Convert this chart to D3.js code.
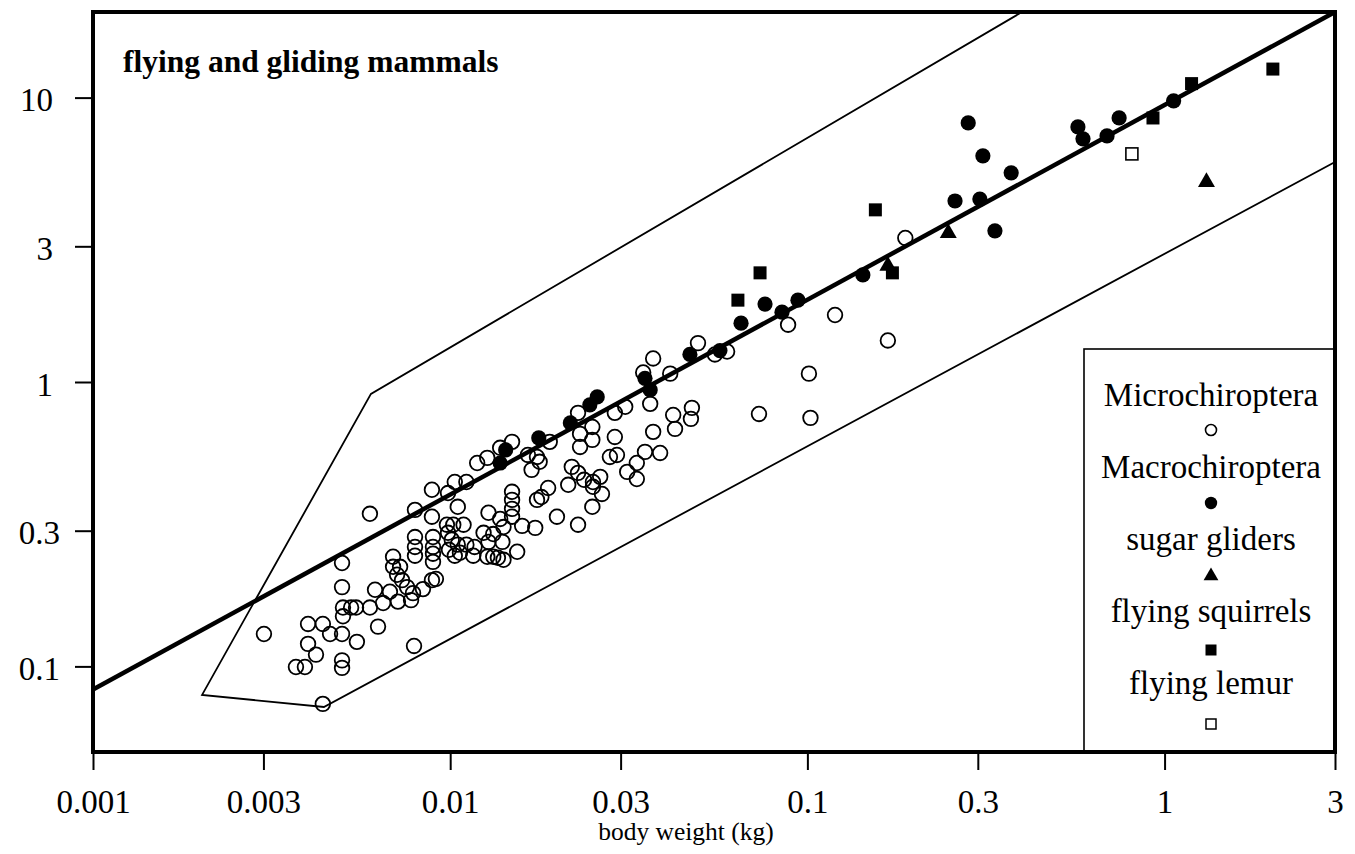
<!DOCTYPE html>
<html>
<head>
<meta charset="utf-8">
<script src="https://cdn.jsdelivr.net/npm/d3@7"></script>
<style>
body { margin: 0; background: #fff; }
text { font-family: "Liberation Serif", "Times New Roman", serif; fill: #000; }
</style>
</head>
<body>
<script>
// axis ticks
var xTicks = [0.001, 0.003, 0.01, 0.03, 0.1, 0.3, 1, 3];
var yTicks = [0.1, 0.3, 1, 3, 10];

// points as [body weight (kg), value]
var microchiroptera = [
  [0.00301, 0.130], [0.00370, 0.0995], [0.00392, 0.0995], [0.00400, 0.141], [0.00440, 0.141],
  [0.00461, 0.130], [0.00498, 0.130], [0.00400, 0.120], [0.00421, 0.110], [0.00498, 0.105],
  [0.00498, 0.0988], [0.00440, 0.0738], [0.00498, 0.231], [0.00498, 0.190], [0.00501, 0.161],
  [0.00501, 0.150], [0.00548, 0.122], [0.00596, 0.344], [0.00528, 0.161], [0.00545, 0.161],
  [0.00596, 0.161], [0.00616, 0.186], [0.00628, 0.138], [0.00649, 0.167], [0.00678, 0.183],
  [0.00692, 0.243], [0.00692, 0.224], [0.00724, 0.224], [0.00710, 0.210], [0.00733, 0.201],
  [0.00757, 0.190], [0.00714, 0.169], [0.00777, 0.171], [0.00787, 0.181], [0.00792, 0.118],
  [0.00797, 0.355], [0.00797, 0.285], [0.00797, 0.263], [0.00797, 0.245], [0.00839, 0.187],
  [0.00889, 0.418], [0.00889, 0.336], [0.00895, 0.285], [0.00895, 0.263], [0.00895, 0.249],
  [0.00895, 0.233], [0.00889, 0.201], [0.00912, 0.203], [0.00986, 0.407], [0.0103, 0.445],
  [0.0111, 0.445], [0.0105, 0.364], [0.00979, 0.315], [0.0102, 0.315], [0.0109, 0.315],
  [0.00986, 0.295], [0.0101, 0.279], [0.00992, 0.257], [0.0103, 0.245], [0.0105, 0.268],
  [0.01065, 0.251], [0.0111, 0.268], [0.0117, 0.263], [0.0116, 0.245], [0.0119, 0.519],
  [0.0127, 0.541], [0.0138, 0.587], [0.0149, 0.616], [0.0169, 0.491], [0.0128, 0.347],
  [0.0138, 0.330], [0.0141, 0.309], [0.0149, 0.411], [0.0149, 0.385], [0.0149, 0.358],
  [0.0149, 0.336], [0.0159, 0.312], [0.0173, 0.307], [0.0175, 0.385], [0.0124, 0.295],
  [0.0132, 0.292], [0.0140, 0.274], [0.0128, 0.274], [0.0127, 0.243], [0.0132, 0.243],
  [0.0136, 0.241], [0.0141, 0.237], [0.0154, 0.253], [0.0165, 0.554], [0.0175, 0.545],
  [0.0178, 0.524], [0.0190, 0.616], [0.0188, 0.424], [0.0214, 0.435], [0.0180, 0.394],
  [0.0199, 0.336], [0.0228, 0.315], [0.0219, 0.503], [0.0228, 0.479], [0.0237, 0.453],
  [0.0251, 0.445], [0.0263, 0.464], [0.0251, 0.428], [0.0266, 0.404], [0.0250, 0.364],
  [0.0228, 0.779], [0.0231, 0.657], [0.0231, 0.591], [0.0250, 0.695], [0.0250, 0.626],
  [0.0289, 0.779], [0.0309, 0.818], [0.0289, 0.641], [0.0280, 0.545], [0.0293, 0.554],
  [0.0313, 0.483], [0.0333, 0.519], [0.0333, 0.456], [0.0351, 0.568], [0.0387, 0.563],
  [0.0363, 0.838], [0.0370, 0.668], [0.0421, 0.766], [0.0426, 0.684], [0.0370, 1.21],
  [0.0413, 1.07], [0.0494, 1.37], [0.0551, 1.25], [0.0596, 1.28], [0.0475, 0.811],
  [0.0472, 0.742], [0.0347, 1.08], [0.0732, 0.772], [0.0883, 1.59], [0.101, 1.07],
  [0.102, 0.748], [0.1195, 1.72], [0.168, 1.40], [0.188, 3.21]
];
var macrochiroptera = [
  [0.0138, 0.519], [0.0143, 0.577], [0.0177, 0.636], [0.0217, 0.718], [0.0246, 0.831],
  [0.0258, 0.886], [0.0351, 1.03], [0.0363, 0.938], [0.0469, 1.25], [0.0569, 1.29],
  [0.0652, 1.61], [0.0761, 1.88], [0.0849, 1.76], [0.0941, 1.94], [0.143, 2.38],
  [0.259, 4.33], [0.282, 8.15], [0.304, 4.40], [0.310, 6.24], [0.335, 3.40],
  [0.372, 5.44], [0.572, 7.89], [0.591, 7.16], [0.690, 7.33], [0.746, 8.48], [1.06, 9.74]
];
var sugarGliders = [[0.168, 2.56], [0.248, 3.34], [1.31, 5.05]];
var flyingSquirrels = [
  [0.0639, 1.94], [0.0737, 2.42], [0.155, 4.03], [0.173, 2.42],
  [0.928, 8.48], [1.19, 11.2], [2.01, 12.6]
];
var flyingLemur = [[0.810, 6.34]];

// fitted line and outline drawn round the data
var fitLine = [[0.001, 0.083], [3, 20]];
var envelope = [[0.399, 20], [0.0060, 0.908], [0.00202, 0.0794], [0.00443, 0.0720], [3, 5.94]];

var legendNames = ["Microchiroptera", "Macrochiroptera", "sugar gliders", "flying squirrels", "flying lemur"];

window.onload = drawChart;

function drawChart(){
    var width = 1355, height = 854;
    var plotL = 93, plotT = 12, plotR = 1335, plotB = 752;

    var svg = d3.select("body").append("svg")
        .attr("width", width)
        .attr("height", height);

    var x = d3.scaleLog().domain([0.001, 3]).range([plotL, plotR]);
    var y = d3.scaleLog().domain([0.05, 20]).range([plotB, plotT]);

    // axes
    var fmt = d3.format("~g");
    var xAxis = svg.append("g")
        .attr("transform", "translate(0," + plotB + ")")
        .call(d3.axisBottom(x).tickValues(xTicks).tickFormat(fmt).tickSize(18).tickPadding(20));
    var yAxis = svg.append("g")
        .attr("transform", "translate(" + plotL + ",0)")
        .call(d3.axisLeft(y).tickValues(yTicks).tickFormat(fmt).tickSize(18).tickPadding(17));

    [xAxis, yAxis].forEach(function(g){
        g.select(".domain").remove();
        g.selectAll(".tick line").attr("stroke", "#000").attr("stroke-width", 2);
        g.selectAll(".tick text")
            .style("font-family", "'Liberation Serif', 'Times New Roman', serif")
            .style("font-size", "33px")
            .attr("fill", "#000");
    });
    // whole numbers sit a little further left of the ticks than the decimals
    yAxis.selectAll(".tick text")
        .attr("dy", "0.4em")
        .attr("x", function(d){ return d >= 1 ? -40 : -33; });

    // lines
    var line = d3.line()
        .x(function(d){ return x(d[0]); })
        .y(function(d){ return y(d[1]); });

    svg.append("path")
        .datum(envelope)
        .attr("d", line)
        .attr("fill", "none")
        .attr("stroke", "#000")
        .attr("stroke-width", 1.8);

    svg.append("path")
        .datum(fitLine)
        .attr("d", line)
        .attr("fill", "none")
        .attr("stroke", "#000")
        .attr("stroke-width", 4.5);

    // points
    svg.append("g").selectAll("circle")
        .data(microchiroptera)
        .join("circle")
        .attr("cx", function(d){ return x(d[0]); })
        .attr("cy", function(d){ return y(d[1]); })
        .attr("r", 7.3)
        .attr("fill", "none")
        .attr("stroke", "#000")
        .attr("stroke-width", 1.8);

    svg.append("g").selectAll("circle")
        .data(macrochiroptera)
        .join("circle")
        .attr("cx", function(d){ return x(d[0]); })
        .attr("cy", function(d){ return y(d[1]); })
        .attr("r", 7.6)
        .attr("fill", "#000");

    var tri = d3.symbol().type(d3.symbolTriangle).size(125);
    svg.append("g").selectAll("path")
        .data(sugarGliders)
        .join("path")
        .attr("d", tri)
        .attr("transform", function(d){ return "translate(" + x(d[0]) + "," + y(d[1]) + ")"; })
        .attr("fill", "#000");

    svg.append("g").selectAll("rect")
        .data(flyingSquirrels)
        .join("rect")
        .attr("x", function(d){ return x(d[0]) - 6.5; })
        .attr("y", function(d){ return y(d[1]) - 6.5; })
        .attr("width", 13)
        .attr("height", 13)
        .attr("fill", "#000");

    svg.append("g").selectAll("rect")
        .data(flyingLemur)
        .join("rect")
        .attr("x", function(d){ return x(d[0]) - 6; })
        .attr("y", function(d){ return y(d[1]) - 6; })
        .attr("width", 12)
        .attr("height", 12)
        .attr("fill", "#fff")
        .attr("stroke", "#000")
        .attr("stroke-width", 1.6);

    // legend box
    var lx = 1084, ly = 349;
    svg.append("rect")
        .attr("x", lx).attr("y", ly)
        .attr("width", plotR - lx).attr("height", plotB - ly)
        .attr("fill", "#fff")
        .attr("stroke", "#000")
        .attr("stroke-width", 1.6);

    var lcx = 1211;
    var rowText = [406, 478, 550, 622, 694];
    var rowMark = [430, 503, 576, 650, 724];

    svg.append("g").selectAll("text")
        .data(legendNames)
        .join("text")
        .attr("x", lcx)
        .attr("y", function(d, i){ return rowText[i]; })
        .attr("text-anchor", "middle")
        .style("font-size", "33px")
        .text(function(d){ return d; });

    svg.append("circle").attr("cx", lcx).attr("cy", rowMark[0]).attr("r", 5.5)
        .attr("fill", "none").attr("stroke", "#000").attr("stroke-width", 1.6);
    svg.append("circle").attr("cx", lcx).attr("cy", rowMark[1]).attr("r", 6.2)
        .attr("fill", "#000");
    svg.append("path").attr("d", d3.symbol().type(d3.symbolTriangle).size(95))
        .attr("transform", "translate(" + lcx + "," + rowMark[2] + ")")
        .attr("fill", "#000");
    svg.append("rect").attr("x", lcx - 5.5).attr("y", rowMark[3] - 5.5)
        .attr("width", 11).attr("height", 11).attr("fill", "#000");
    svg.append("rect").attr("x", lcx - 5).attr("y", rowMark[4] - 5)
        .attr("width", 10).attr("height", 10)
        .attr("fill", "#fff").attr("stroke", "#000").attr("stroke-width", 1.5);

    // frame
    svg.append("rect")
        .attr("x", plotL).attr("y", plotT)
        .attr("width", plotR - plotL).attr("height", plotB - plotT)
        .attr("fill", "none")
        .attr("stroke", "#000")
        .attr("stroke-width", 4);

    // labels
    svg.append("text")
        .attr("x", 123)
        .attr("y", 72)
        .style("font-size", "31.5px")
        .style("font-weight", "bold")
        .text("flying and gliding mammals");

    svg.append("text")
        .attr("x", 686)
        .attr("y", 840)
        .attr("text-anchor", "middle")
        .style("font-size", "25.5px")
        .text("body weight (kg)");
}
</script>
</body>
</html>
